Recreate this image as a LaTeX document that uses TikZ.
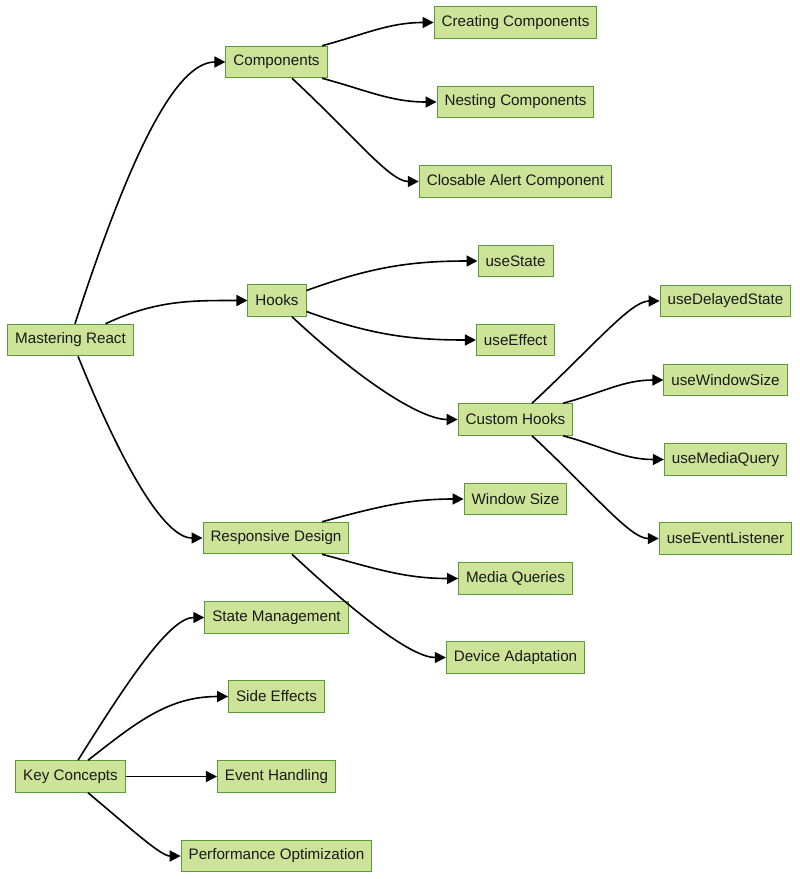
\documentclass[tikz,border=0pt]{standalone}
\usepackage{fontspec}
\setmainfont{Liberation Sans}
\usetikzlibrary{arrows.meta}
\definecolor{boxfill}{HTML}{CDE498}
\definecolor{boxline}{HTML}{5A9A3A}
\definecolor{txt}{HTML}{1A1A1A}
\tikzset{
  box/.style={draw=boxline, fill=boxfill, line width=1pt, minimum height=31.5pt,
    inner xsep=7.5pt, inner ysep=0pt, text=txt, font=\fontsize{15.2}{18}\selectfont},
  link/.style={line width=1.6pt, -{Triangle[length=11pt,width=11pt]}},
  lateturn/.style={out looseness=1.35, in looseness=0.45}
}
\begin{document}
\begin{tikzpicture}[x=1pt,y=-1pt]
\useasboundingbox (0,0) rectangle (800,879);
\node[box] (mr) at (70.5,340) {Mastering React};
\node[box] (comp) at (276.5,62) {Components};
\node[box] (create) at (515.5,22.5) {Creating Components};
\node[box] (nest) at (515.5,102) {Nesting Components};
\node[box] (alert) at (515.5,181.5) {Closable Alert Component};
\node[box] (hooks) at (277,300.5) {Hooks};
\node[box] (ustate) at (515.5,261) {useState};
\node[box] (ueffect) at (515.5,340) {useEffect};
\node[box] (custom) at (515.5,419.5) {Custom Hooks};
\node[box] (udelay) at (725.5,301) {useDelayedState};
\node[box] (uwin) at (725.5,380) {useWindowSize};
\node[box] (umedia) at (725.5,459.5) {useMediaQuery};
\node[box] (uevent) at (725.5,538.5) {useEventListener};
\node[box] (resp) at (276,538) {Responsive Design};
\node[box] (wsize) at (515.5,499) {Window Size};
\node[box] (mq) at (515.5,578.5) {Media Queries};
\node[box] (dev) at (515.5,657.5) {Device Adaptation};
\node[box] (kc) at (70.5,776.5) {Key Concepts};
\node[box] (sm) at (276.5,617.5) {State Management};
\node[box] (se) at (276.5,696.5) {Side Effects};
\node[box] (eh) at (276.5,776.5) {Event Handling};
\node[box] (po) at (276.5,856) {Performance Optimization};

\draw[link] ([xshift=4.5pt]mr.north) to[out=72,in=180,lateturn] (comp.west);
\draw[link] ([xshift=35pt]mr.north) to[out=25,in=180] (hooks.west);
\draw[link] ([xshift=7.5pt]mr.south) to[out=-68,in=180,lateturn] (resp.west);

\draw[link] ([xshift=45.5pt]comp.north) to[out=15,in=180] (create.west);
\draw[link] ([xshift=45.5pt]comp.south) to[out=-15,in=180] (nest.west);
\draw[link] ([xshift=15.5pt]comp.south) to[out=-43,in=180,lateturn] (alert.west);

\draw[link] ([yshift=10pt]hooks.east) to[out=20,in=180] (ustate.west);
\draw[link] ([yshift=-11pt]hooks.east) to[out=-20,in=180] (ueffect.west);
\draw[link] ([xshift=15pt]hooks.south) to[out=-43,in=180,lateturn] (custom.west);

\draw[link] ([xshift=16.5pt]custom.north) to[out=43,in=180,lateturn] (udelay.west);
\draw[link] ([xshift=47.5pt]custom.north) to[out=15,in=180] (uwin.west);
\draw[link] ([xshift=47.5pt]custom.south) to[out=-15,in=180] (umedia.west);
\draw[link] ([xshift=16.5pt]custom.south) to[out=-43,in=180,lateturn] (uevent.west);

\draw[link] ([xshift=46pt]resp.north) to[out=15,in=180] (wsize.west);
\draw[link] ([xshift=46pt]resp.south) to[out=-15,in=180] (mq.west);
\draw[link] ([xshift=16pt]resp.south) to[out=-43,in=180,lateturn] (dev.west);

\draw[link] ([xshift=7.5pt]kc.north) to[out=58,in=180,lateturn] (sm.west);
\draw[link] ([xshift=17.5pt]kc.north) to[out=38,in=180] (se.west);
\draw[link] (kc.east) -- (eh.west);
\draw[link] ([xshift=17.5pt]kc.south) to[out=-40,in=180,lateturn] (po.west);
\end{tikzpicture}
\end{document}
